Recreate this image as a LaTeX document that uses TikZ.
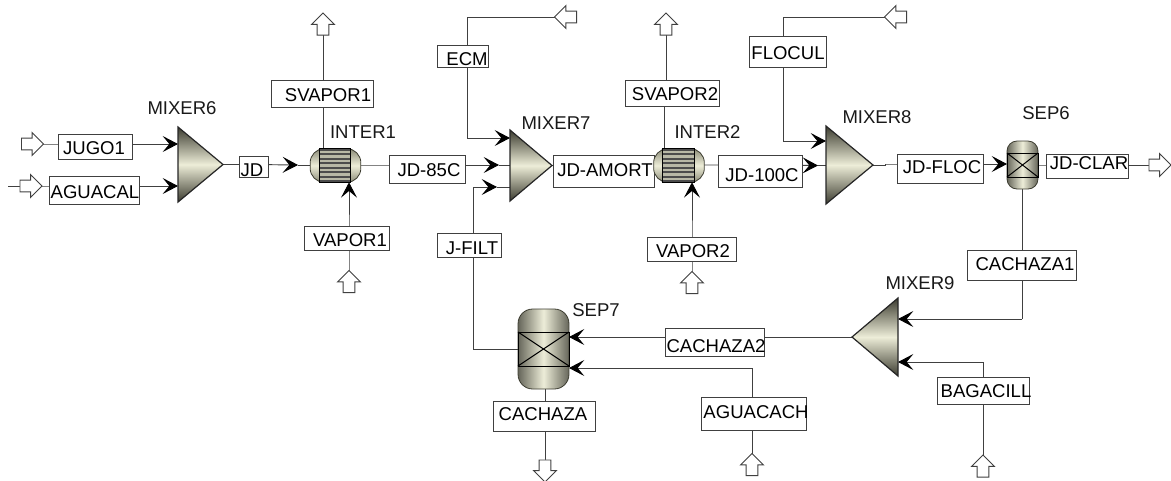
\documentclass[tikz,border=0pt]{standalone}
\usepackage{fontspec}
\setmainfont{Liberation Sans}
\usetikzlibrary{arrows.meta,shapes.arrows,backgrounds}
\definecolor{eqdark}{HTML}{3C3C30}
\definecolor{eqlight}{HTML}{EDEDD8}
\definecolor{eqmid}{HTML}{8C8C78}
\definecolor{eqedge}{HTML}{66665A}
\definecolor{stripe}{HTML}{B8B8A6}
\definecolor{linec}{HTML}{404040}
\tikzset{
  lbl/.style={draw=linec,line width=0.75pt,fill=white,inner sep=0pt,outer sep=0pt},
  tag/.style={inner sep=0pt,text=black!90},
  conn/.style={draw=linec,line width=0.7pt},
  arr/.style={conn,-{Stealth[length=11.5pt,width=12pt,inset=5pt,black]}},
  blockarrow/.style={single arrow,draw=linec,fill=white,line width=0.7pt,inner xsep=0pt,inner ysep=4.1pt,outer sep=0pt,
    minimum height=16.5pt,single arrow tip angle=90,single arrow head extend=4.1pt},
  mixbox/.style={inner sep=0pt,outer sep=0pt},
  mixfill/.style={draw=black!85,line width=0.9pt,top color=eqdark,bottom color=eqdark,middle color=eqlight},
  hx/.style={draw=eqdark,line width=0.6pt,top color=eqmid,bottom color=eqmid,middle color=eqlight,
    inner sep=0pt,outer sep=0pt,rounded corners=10.5pt,minimum width=38pt,minimum height=25.2pt},
  tubes/.style={draw=black,line width=0.9pt,fill=black!70,inner sep=0pt,minimum width=23.5pt,minimum height=25.2pt,
    path picture={\foreach \k in {-13.5,-9,-4.5,0,4.5,9,13.5}{\fill[stripe] ([shift={(-20,\k-1.3)}]path picture bounding box.center) rectangle ([shift={(20,\k+1.3)}]path picture bounding box.center);}}},
  vessel/.style={draw=eqdark,line width=0.6pt,left color=eqedge,right color=eqedge,middle color=eqlight,inner sep=0pt,outer sep=0pt},
  xfill/.style={draw=black,line width=0.75pt},
}
% name, x1, y1, x2, y2, text, text centre x, text centre y
\newcommand{\lblbox}[8]{%
  \pgfmathsetmacro{\bxw}{(#4-#2)*0.75}%
  \pgfmathsetmacro{\bxh}{(#5-#3)*0.75}%
  \pgfmathsetmacro{\bxcx}{(#2+#4)/2}%
  \pgfmathsetmacro{\bxcy}{(#3+#5)/2}%
  \pgfmathsetmacro{\bxdx}{(#7-\bxcx)*1.5}%
  \pgfmathsetmacro{\bxdy}{-(#8-\bxcy)*0.75-5}%
  \node[lbl,minimum width=\bxw pt,minimum height=\bxh pt] (#1) at (\bxcx,\bxcy)
    {\raisebox{\bxdy pt}[0pt][0pt]{\makebox[0pt][c]{\hspace*{\bxdx pt}#6}}};%
}
% name, x1, x2, top, bottom
\newcommand{\mixbox}[5]{%
  \pgfmathsetmacro{\bxw}{(#3-#2)*0.75}%
  \pgfmathsetmacro{\bxh}{(#5-#4)*0.75}%
  \node[mixbox,minimum width=\bxw pt,minimum height=\bxh pt] (#1) at ({(#2+#3)/2},{(#4+#5)/2}) {};%
}
\begin{document}
\begin{tikzpicture}[x=0.75pt,y=-0.75pt,font=\fontsize{13.9pt}{15pt}\selectfont]
\useasboundingbox (0,0) rectangle (1171,480);

% labels on boxes
\lblbox{JUGO}{58}{134}{132}{159}{JUGO1}{94}{148}
\lblbox{AGUACAL}{49}{176}{139}{204}{AGUACAL}{95}{192}
\lblbox{JD}{239}{156}{268}{177}{JD}{252}{170}
\lblbox{SV1}{271}{80}{373}{107}{SVAPOR1}{328}{95}
\lblbox{V1}{304}{226}{389}{250}{VAPOR1}{350}{240}
\lblbox{JD85}{389}{155}{465}{183}{JD-85C}{429}{170}
\lblbox{ECM}{437}{45}{488}{67}{ECM}{467}{59}
\lblbox{JF}{437}{233}{501}{257}{J-FILT}{472}{248}
\lblbox{AMORT}{553}{155}{654}{187}{JD-AMORT}{605}{170}
\lblbox{SV2}{625}{80}{719}{106}{SVAPOR2}{675}{94}
\lblbox{V2}{647}{237}{736}{261}{VAPOR2}{693}{251}
\lblbox{JD100}{718}{155}{802}{187}{JD-100C}{762}{175}
\lblbox{FLOC}{749}{36}{826}{67}{FLOCUL}{788}{53}
\lblbox{JDFLOC}{897}{154}{983}{183}{JD-FLOC}{942}{167}
\lblbox{CLAR}{1046}{154}{1128}{178}{JD-CLAR}{1089}{163}
\lblbox{CA1}{967}{250}{1076}{280}{CACHAZA1}{1025}{264}
\lblbox{CA2}{665}{328}{764}{356}{CACHAZA2}{716}{346}
\lblbox{CAC}{493}{401}{595}{431}{CACHAZA}{543}{414}
\lblbox{ACH}{701}{397}{806}{430}{AGUACACH}{756}{412}
\lblbox{BAG}{937}{377}{1029}{404}{BAGACILL}{986}{391}

% equipment tags
\node[tag] (tM6) at (182,108) {MIXER6};
\node[tag] (tI1) at (363,132) {INTER1};
\node[tag] (tM7) at (556,123) {MIXER7};
\node[tag] (tI2) at (707.5,132) {INTER2};
\node[tag] (tM8) at (877,117) {MIXER8};
\node[tag] (tS6) at (1046,113) {SEP6};
\node[tag] (tM9) at (920,283) {MIXER9};
\node[tag] (tS7) at (596,310) {SEP7};

% mixers
\mixbox{M6}{178}{223}{127}{202}
\mixbox{M7}{510}{552}{130}{201}
\mixbox{M8}{826}{873}{126}{204}
\mixbox{M9}{852}{898}{298}{376}
\path[mixfill] (M6.north west) -- (M6.east) -- (M6.south west) -- cycle;
\path[mixfill] (M7.north west) -- (M7.east) -- (M7.south west) -- cycle;
\path[mixfill] (M8.north west) -- (M8.east) -- (M8.south west) -- cycle;
\path[mixfill] (M9.north east) -- (M9.west) -- (M9.south east) -- cycle;

% exchangers
\node[hx] (I1) at (335.5,165.5) {};
\node[tubes] (I1t) at (335,165.5) {};
\node[hx] (I2) at (679,165.5) {};
\node[tubes] (I2t) at (678.5,165.5) {};

% separators
\node[vessel,minimum width=23.2pt,minimum height=36pt,rounded corners=7.5pt] (S6) at (1022.5,165) {};
\draw[xfill] ([shift={(-15.5,-12)}]S6.center) rectangle ([shift={(15.5,12)}]S6.center);
\draw[xfill] ([shift={(-15.5,-12)}]S6.center) -- ([shift={(15.5,12)}]S6.center);
\draw[xfill] ([shift={(-15.5,12)}]S6.center) -- ([shift={(15.5,-12)}]S6.center);
\node[vessel,minimum width=38.2pt,minimum height=60pt,rounded corners=11pt] (S7) at (543.5,349) {};
\draw[xfill] ([shift={(-25.5,-17)}]S7.center) rectangle ([shift={(25.5,17)}]S7.center);
\draw[xfill] ([shift={(-25.5,-17)}]S7.center) -- ([shift={(25.5,17)}]S7.center);
\draw[xfill] ([shift={(-25.5,17)}]S7.center) -- ([shift={(25.5,-17)}]S7.center);

% block arrows (feeds and products)
\node[blockarrow] (aJ) at (29.5,144) {};
\node[blockarrow] (aA) at (28,186) {};
\node[blockarrow,rotate=90] (aSV1) at (323,27) {};
\node[blockarrow,rotate=90] (aV1) at (349,284.5) {};
\node[blockarrow,rotate=180] (aE) at (568.5,17) {};
\node[blockarrow,rotate=90] (aSV2) at (666,27) {};
\node[blockarrow,rotate=90] (aV2) at (692,285.5) {};
\node[blockarrow,rotate=180] (aF) at (898.5,17) {};
\node[blockarrow] (aCL) at (1157,165) {};
\node[blockarrow,rotate=-90] (aCH) at (545,468) {};
\node[blockarrow,rotate=90] (aAC) at (752,467.5) {};
\node[blockarrow,rotate=90] (aB) at (983,469) {};

% bends and intermediate points
\coordinate (startA) at (8,186);
\coordinate (tipJD) at (298,165);
\coordinate (tip85) at (499,165);
\coordinate (bendE) at (467,138);
\coordinate (bendF) at (473,187);
\coordinate (tipF) at (497,187);
\coordinate (tip100) at (818,165.5);
\coordinate (bendFl) at (783,141);
\coordinate (stepA) at (885,165);
\coordinate (stepB) at (885,164);
\coordinate (bendC1) at (1022,319);
\coordinate (bendB) at (983,362);
\coordinate (bendAC) at (752,368);
\coordinate (svIn) at (664,149);
\coordinate (svMid) at (664,93);
\coordinate (svUp) at (666,93);

\begin{scope}[on background layer]
  \draw[arr] (aJ.tip) -- (aJ.tip -| JUGO) -- (aJ.tip -| M6.west);
  \draw[conn] (startA) -- (aA.tail);
  \draw[arr] (aA.tip) -- (aA.tip -| AGUACAL) -- (aA.tip -| M6.west);
  \draw[arr] (M6.east) -- (M6.east -| JD) -- (tipJD);
  \draw[conn] (tipJD) -- (tipJD -| I1.west);
  \draw[conn] (aSV1.tail |- I1.north) -- (aSV1.tail);
  \draw[arr] (aV1.tip) -- (aV1.tip |- V1) -- (aV1.tip |- I1.south);
  \draw[arr] (tipJD -| I1.east) -- (tipJD -| JD85) -- (tip85);
  \draw[conn] (tip85) -- (tip85 -| M7.west);
  \draw[conn] (aE.tip) -- (aE.tip -| bendE) -- (bendE);
  \draw[arr] (bendE) -- (bendE -| M7.west);
  \draw[conn] (S7.west) -- (S7.west -| bendF) -- (bendF);
  \draw[arr] (bendF) -- (tipF);
  \draw[conn] (tipF) -- (tipF -| M7.west);
  \draw[conn] (M7.east) -- (M7.east -| AMORT) -- (M7.east -| I2.west);
  \draw[conn] (svIn) -- (svMid) -- (svUp) -- (aSV2.tail);
  \draw[arr] (aV2.tip) -- (aV2.tip |- V2) -- (aV2.tip |- I2.south);
  \draw[arr] (tipJD -| I2.east) -- (tipJD -| JD100) -- (tip100);
  \draw[conn] (tip100) -- (tip100 -| M8.west);
  \draw[conn] (aF.tip) -- (aF.tip -| bendFl) -- (bendFl);
  \draw[arr] (bendFl) -- (bendFl -| M8.west);
  \draw[conn] (M8.east) -- (stepA) -- (stepB);
  \draw[arr] (stepB) -- (stepB -| JDFLOC) -- (stepB -| S6.west);
  \draw[conn] (S6.east) -- (S6.east -| CLAR) -- (aCL.tail);
  \draw[conn] (bendC1 |- S6.south) -- (bendC1);
  \draw[arr] (bendC1) -- (bendC1 -| M9.east);
  \draw[conn] (aB.tip) -- (bendB);
  \draw[arr] (bendB) -- (bendB -| M9.east);
  \draw[arr] (M9.west) -- (M9.west -| CA2) -- (M9.west -| S7.east);
  \draw[conn] (aAC.tip) -- (bendAC);
  \draw[arr] (bendAC) -- (bendAC -| S7.east);
  \draw[conn] (aCH.tail |- S7.south) -- (aCH.tail);
\end{scope}
\end{tikzpicture}
\end{document}
